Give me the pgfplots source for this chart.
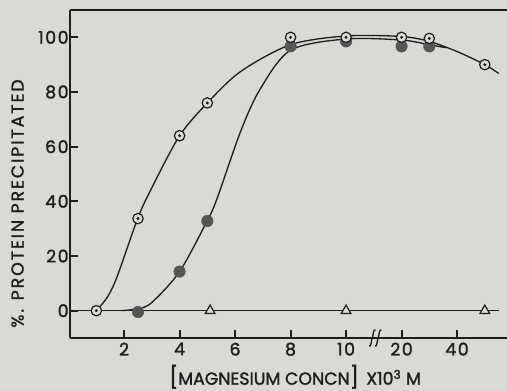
\documentclass[border=0pt]{standalone}
\usepackage{fontspec}
\setmainfont{Poppins}
\newfontfamily\lab{Poppins}[FakeBold=1.6]
\newfontfamily\labsp{Poppins}[FakeBold=1.6, LetterSpace=11]
\newfontfamily\ticksp{Poppins}[FakeBold=1.6, LetterSpace=9]
\usepackage{pgfplots}
\pgfplotsset{compat=1.18}
\definecolor{bg}{HTML}{D9D9D6}
\definecolor{ink}{HTML}{1E1E1E}
\definecolor{dotc}{HTML}{555555}
\begin{document}
\begin{tikzpicture}
\fill[bg] (0,0) rectangle (380.25pt,293.25pt);
\begin{axis}[
  at={(52.5pt,39.75pt)}, anchor=south west,
  scale only axis, width=327.75pt, height=246pt,
  xmin=0.05, xmax=15.8, ymin=-10, ymax=110,
  axis x line*=box, axis y line*=left,
  axis line style={ink, line width=1.4pt, -},
  xtick={2,4,6,8,10,12,14}, xticklabels={2,4,6,8,10,20,40},
  ytick={0,20,40,60,80,100},
  xtick pos=bottom, ytick pos=left,
  tick align=inside, major tick length=6pt,
  tick style={ink, line width=1.4pt},
  /pgf/number format/assume math mode=true,
  tick label style={font=\ticksp\fontsize{13}{15}\selectfont, text=ink},
  xticklabel style={yshift=0pt},
  yticklabel style={xshift=2.5pt},
  clip=false,
]
% zero line
\addplot[ink, line width=1pt] coordinates {(0.05,0) (15.5,0)};
% open-circle curve
\addplot[ink, line width=1pt, smooth, tension=0.5] coordinates {
 (1,0) (1.4,5) (1.75,12.5) (2.5,34) (3,45) (4,64) (5,76) (6.2,87.5) (8,97.3) (10,100.5) (12,100.3) (13,98.5) (14,94.8) (15,90) (15.5,86.8)};
% filled-circle curve
\addplot[ink, line width=1pt, smooth, tension=0.5] coordinates {
 (1.9,0) (2.5,0.7) (3,3) (4,14.3) (5,33) (5.35,41) (6.2,65.6) (6.9,81) (8,95.3) (10,99.4) (12,99) (13,97.3) (13.6,96.2)};
% filled circles
\addplot[only marks, mark=*, mark size=4.3pt, mark options={fill=dotc, draw=dotc}] coordinates {
 (2.5,-0.5) (4,14.3) (5,32.8) (8,96.7) (10,98.5) (12,96.7) (13,96.7)};
% open circles with centre dot
\addplot[only marks, mark=*, mark size=3.9pt, mark options={fill=bg, draw=ink, line width=0.9pt}] coordinates {
 (1,0) (2.5,33.7) (4,64) (5,76) (8,100) (10,100) (12,100) (13,99.6) (15,90)};
\addplot[only marks, mark=*, mark size=0.9pt, mark options={fill=ink, draw=ink}] coordinates {
 (1,0) (2.5,33.7) (4,64) (5,76) (8,100) (10,100) (12,100) (13,99.6) (15,90)};
% triangles
\addplot[only marks, mark=triangle*, mark size=4.2pt, mark options={fill=bg, draw=ink, line width=0.9pt}] coordinates {
 (5.1,0) (10,0) (15,0)};
% axis break mark
\draw[ink, line width=1pt] ([xshift=0.3pt, yshift=6pt]axis cs:11.05,-10)
     .. controls +(-2pt,1pt) and +(1pt,2pt) .. ++(-2.5pt,-6pt)
     .. controls +(-1pt,-2pt) and +(2pt,-1pt) .. ++(-2.5pt,-6pt);
\draw[ink, line width=1pt] ([xshift=4.7pt, yshift=6pt]axis cs:11.05,-10)
     .. controls +(-2pt,1pt) and +(1pt,2pt) .. ++(-2.5pt,-6pt)
     .. controls +(-1pt,-2pt) and +(2pt,-1pt) .. ++(-2.5pt,-6pt);
\node[font=\labsp\fontsize{13}{15}\selectfont, text=ink, rotate=90] at (axis description cs:-0.12,0.41) {\%. PROTEIN PRECIPITATED};
\node[font=\lab\fontsize{13}{15}\selectfont, text=ink] at (axis description cs:0.515,-0.118) {{\fontsize{16}{16}\selectfont[}MAGNESIUM CONCN{\fontsize{16}{16}\selectfont]}\, X10\textsuperscript{3} M};
\end{axis}
\pgfresetboundingbox
\path[use as bounding box] (0,0) rectangle (380.25pt,293.25pt);
\end{tikzpicture}
\end{document}
